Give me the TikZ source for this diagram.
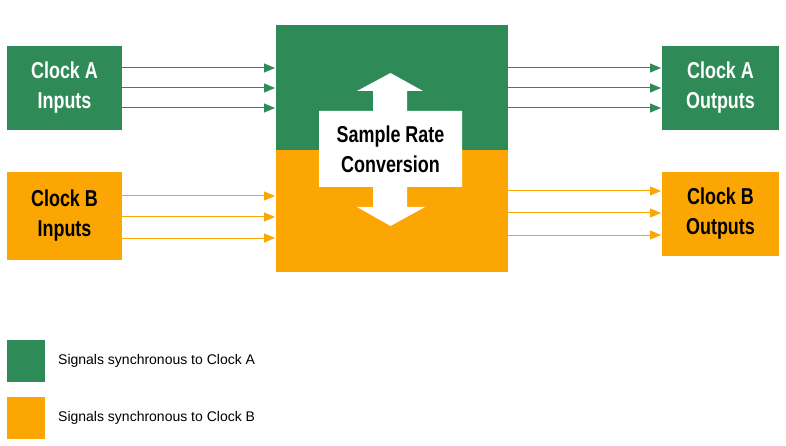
\documentclass[tikz,border=0pt]{standalone}
\usepackage{fontspec}
\setmainfont{Liberation Sans}
\newfontfamily\narrowbold[FakeStretch=0.78]{Liberation Sans Bold}
\usetikzlibrary{arrows.meta}
\definecolor{cgreen}{HTML}{2E8B57}
\definecolor{corange}{HTML}{FBA602}
\begin{document}
\begin{tikzpicture}[x=1pt,y=-1pt,
  blk/.style={inner sep=0pt,text=white,align=center,font=\narrowbold\fontsize{23}{30}\selectfont},
  sig/.style={line width=1pt,-{Triangle[length=11pt,width=9pt]}},
  lg/.style={font=\fontsize{14}{16}\selectfont,anchor=west,inner sep=0pt}]
\useasboundingbox (0,0) rectangle (786,446);
\fill[white] (0,0) rectangle (786,446);
% boxes
\fill[cgreen] (7,46) rectangle (122,130);
\node[blk] (ai) at (64.5,88) {Clock A\\Inputs};
\fill[corange] (7,172) rectangle (122,260);
\node[blk,text=black] (bi) at (64.5,216) {Clock B\\Inputs};
\fill[cgreen] (662,46) rectangle (779,130);
\node[blk] (ao) at (720.5,88) {Clock A\\Outputs};
\fill[corange] (662,172) rectangle (779,256);
\node[blk,text=black] (bo) at (720.5,214) {Clock B\\Outputs};
% center block
\fill[cgreen] (276,25) rectangle (508,150);
\fill[corange] (276,150) rectangle (508,272);
\fill[white] (390.5,73) -- (423,91) -- (407,91) -- (407,111) -- (462,111) -- (462,187)
  -- (407,187) -- (407,207) -- (425,207) -- (390.5,226) -- (357,207) -- (373,207)
  -- (373,187) -- (319,187) -- (319,111) -- (373,111) -- (373,91) -- (357,91) -- cycle;
\node[blk,text=black] (src) at (390.5,149) {Sample Rate\\Conversion};
% arrows
\foreach \y in {68,88,108} {
  \coordinate (s) at (122,\y); \coordinate (e) at (275,\y);
  \draw[sig,cgreen] (s) -- (e);
  \coordinate (s) at (508,\y); \coordinate (e) at (661,\y);
  \draw[sig,cgreen] (s) -- (e);}
\foreach \y in {196,217,238} {
  \coordinate (s) at (122,\y); \coordinate (e) at (275,\y);
  \draw[sig,corange] (s) -- (e);}
\foreach \y in {191,213,235} {
  \coordinate (s) at (508,\y); \coordinate (e) at (661,\y);
  \draw[sig,corange] (s) -- (e);}
% legend
\fill[cgreen] (7,340) rectangle (45,382);
\fill[corange] (7,397) rectangle (45,439);
\node[lg] (la) at (58,361) {Signals synchronous to Clock A};
\node[lg] (lb) at (58,418) {Signals synchronous to Clock B};
\end{tikzpicture}
\end{document}
